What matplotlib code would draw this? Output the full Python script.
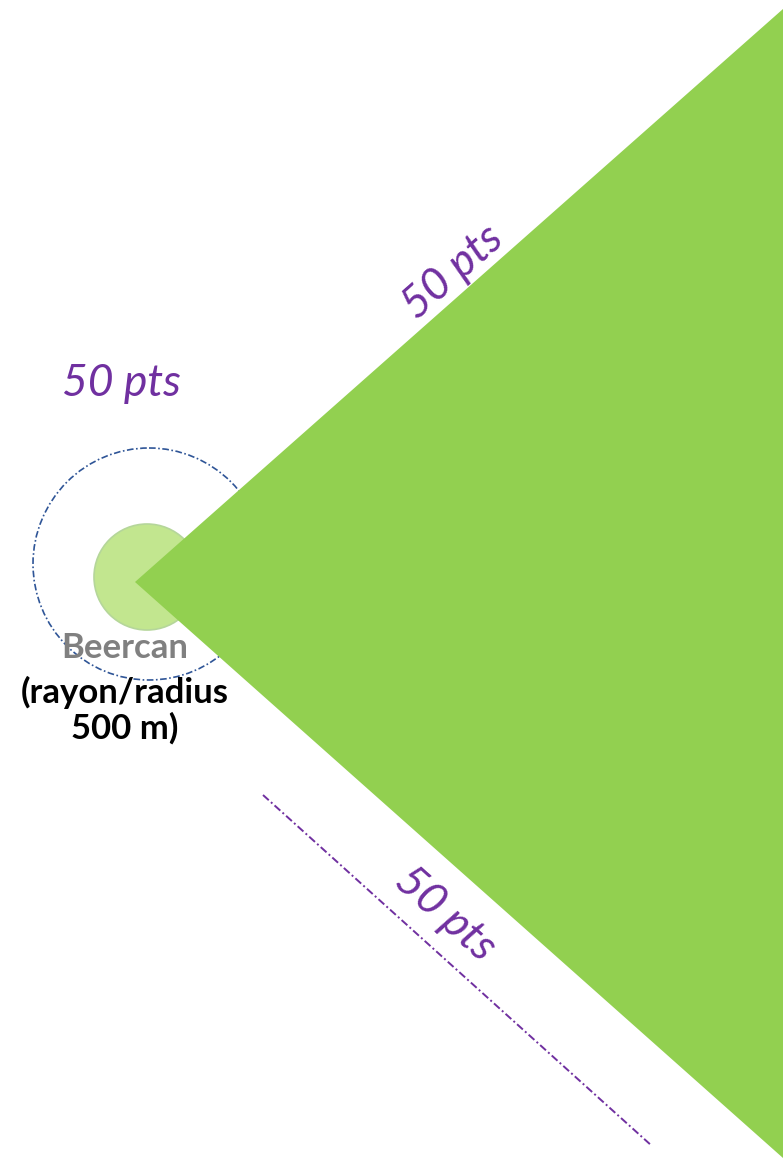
import numpy as np
import matplotlib.pyplot as plt
from matplotlib.patches import Polygon, Circle

# diagram geometry, in picture pixels (y grows downward)
wedge_x = [135, 783, 783]
wedge_y = [582, 9, 1158]
can_center = (147, 577)
can_radius = 53
zone_center = (149, 564)
zone_radius = 116
side_x = [263, 652]
side_y = [795, 1146]

labels = ["50 pts", "50 pts", "50 pts"]
label_x = [121, 453, 445]
label_y = [383, 272, 914]
label_rot = [0, 41.5, -41.6]

green = "#92D050"
purple = "#7030A0"

fig = plt.figure(figsize=(7.83, 11.61), dpi=100)
ax = fig.add_axes([0, 0, 1, 1])
ax.set_xlim(0, 783)
ax.set_ylim(1161, 0)
ax.set_aspect("equal")
ax.axis("off")

ax.add_patch(Circle(zone_center, zone_radius, fill=False, ec="#2F5597",
                    lw=1.2, ls=(0, (4, 1.5, 1, 1.5)), zorder=1))
ax.add_patch(Circle(can_center, can_radius, fc="#C2E68F", ec="#B5D69A",
                    lw=1.2, zorder=2))
ax.add_patch(Polygon(np.column_stack([wedge_x, wedge_y]), closed=True,
                     fc=green, ec="none", zorder=3))
ax.plot(side_x, side_y, color=purple, lw=1.4, ls=(0, (4, 1.5, 1, 1.5)), zorder=3)

for t, x, y, r in zip(labels, label_x, label_y, label_rot):
    ax.text(x, y, t, color=purple, fontsize=32, style="italic",
            family=["Lato", "DejaVu Sans"], rotation=r,
            rotation_mode="anchor", ha="center", va="center", zorder=5)

ax.text(125, 648, "Beercan", color="#808080", fontsize=25, weight="bold",
        family=["Lato", "DejaVu Sans"], ha="center", va="center", zorder=5)
ax.text(125, 710, "(rayon/radius\n500 m)", color="black", fontsize=25,
        weight="bold", family=["Lato", "DejaVu Sans"], ha="center",
        va="center", linespacing=1.1, zorder=5)

fig.savefig("out.png", dpi=100)
